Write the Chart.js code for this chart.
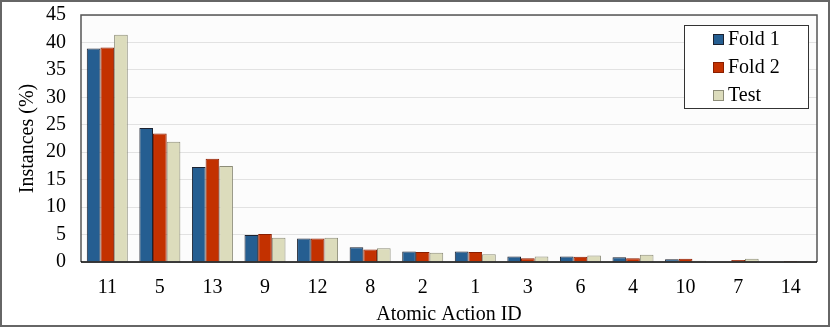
<!DOCTYPE html>
<html>
<head>
<meta charset="utf-8">
<script src="https://cdn.jsdelivr.net/npm/chart.js@4"></script>
<style>
  html, body { margin: 0; padding: 0; background: #fff; }
  #wrap { width: 830px; height: 327px; position: relative; }
  canvas { display: block; }
</style>
</head>
<body>
<div id="wrap"><canvas id="chart" width="830" height="327"></canvas></div>
<script>
// data
const actionIds = ['11', '5', '13', '9', '12', '8', '2', '1', '3', '6', '4', '10', '7', '14'];
const fold1 = [38.9, 24.4, 17.3, 4.9, 4.3, 2.7, 1.9, 1.9, 1.0, 1.0, 0.85, 0.5, 0.1, 0.1];
const fold2 = [39.1, 23.4, 18.8, 5.1, 4.3, 2.3, 1.8, 1.8, 0.7, 0.95, 0.7, 0.6, 0.35, 0.2];
const test = [41.4, 21.9, 17.5, 4.4, 4.4, 2.5, 1.7, 1.4, 1.0, 1.2, 1.3, 0.25, 0.6, 0.2];

const serif = 'Liberation Serif, Times New Roman, DejaVu Serif, serif';

// frame round the plot, outer border and the boxed legend
const framePlugin = {
  id: 'frame',
  beforeDraw(chart) {
    const { ctx, chartArea: a } = chart;
    ctx.save();
    ctx.fillStyle = '#fcfcfc';
    ctx.fillRect(a.left, a.top, a.right - a.left, a.bottom - a.top);
    ctx.restore();
  },
  afterDraw(chart) {
    const { ctx, chartArea: a, width, height } = chart;
    ctx.save();
    // plot frame (top, right, left)
    ctx.strokeStyle = '#555';
    ctx.lineWidth = 1.5;
    ctx.beginPath();
    ctx.moveTo(a.left, a.bottom);
    ctx.lineTo(a.left, a.top);
    ctx.lineTo(a.right, a.top);
    ctx.lineTo(a.right, a.bottom);
    ctx.stroke();
    // zero axis
    ctx.strokeStyle = '#000';
    ctx.beginPath();
    ctx.moveTo(a.left, a.bottom);
    ctx.lineTo(a.right, a.bottom);
    ctx.stroke();
    // outer border
    ctx.strokeStyle = '#666';
    ctx.lineWidth = 2;
    ctx.strokeRect(1, 1, width - 2, height - 2);

    // legend
    const lx = 684, ly = 25, lw = 124, lh = 83;
    ctx.fillStyle = '#fff';
    ctx.fillRect(lx, ly, lw, lh);
    ctx.strokeStyle = '#333';
    ctx.lineWidth = 1;
    ctx.strokeRect(lx + 0.5, ly + 0.5, lw, lh);
    ctx.font = '20px ' + serif;
    ctx.textBaseline = 'middle';
    chart.data.datasets.forEach((ds, i) => {
      const cy = 39 + i * 28;
      ctx.fillStyle = ds.backgroundColor;
      ctx.fillRect(713, cy - 5, 11, 11);
      ctx.strokeStyle = ds.borderColor;
      ctx.strokeRect(713.5, cy - 4.5, 10, 10);
      ctx.fillStyle = '#000';
      ctx.fillText(ds.label, 728, cy + 1);
    });
    ctx.restore();
  }
};

const ctx = document.getElementById('chart').getContext('2d');
new Chart(ctx, {
  type: 'bar',
  data: {
    labels: actionIds,
    datasets: [
      { label: 'Fold 1', data: fold1, backgroundColor: '#255e91', borderColor: '#1c2230', borderWidth: 1 },
      { label: 'Fold 2', data: fold2, backgroundColor: '#c33100', borderColor: '#8a1e00', borderWidth: 1 },
      { label: 'Test', data: test, backgroundColor: '#dcdcbc', borderColor: '#8c8c78', borderWidth: 1 }
    ]
  },
  options: {
    responsive: false,
    animation: false,
    layout: { padding: { left: 0, top: 15, right: 13, bottom: 0 } },
    datasets: { bar: { categoryPercentage: 0.78, barPercentage: 1.0 } },
    plugins: { legend: { display: false }, tooltip: { enabled: false } },
    scales: {
      x: {
        grid: { display: false, drawTicks: false },
        border: { display: false },
        ticks: { color: '#000', font: { family: serif, size: 20 }, padding: 14, maxRotation: 0, autoSkip: false },
        title: { display: true, text: 'Atomic Action ID', color: '#000', font: { family: serif, size: 20 }, padding: { top: 0, bottom: 0 } },
        afterFit(scale) {
          scale.height = 65;
          scale.paddingLeft = 0;
          scale.paddingRight = 0;
        }
      },
      y: {
        min: 0, max: 45,
        grid: { color: '#e2e2e2', drawTicks: false },
        border: { display: false },
        ticks: { stepSize: 5, color: '#000', font: { family: serif, size: 20 }, padding: 15, autoSkip: false },
        title: { display: true, text: 'Instances (%)', color: '#000', font: { family: serif, size: 20 }, padding: { top: 16, bottom: 0 } },
        afterFit(scale) {
          scale.width = 81;
          scale.paddingTop = 0;
          scale.paddingBottom = 0;
        }
      }
    }
  },
  plugins: [framePlugin]
});
</script>
</body>
</html>
